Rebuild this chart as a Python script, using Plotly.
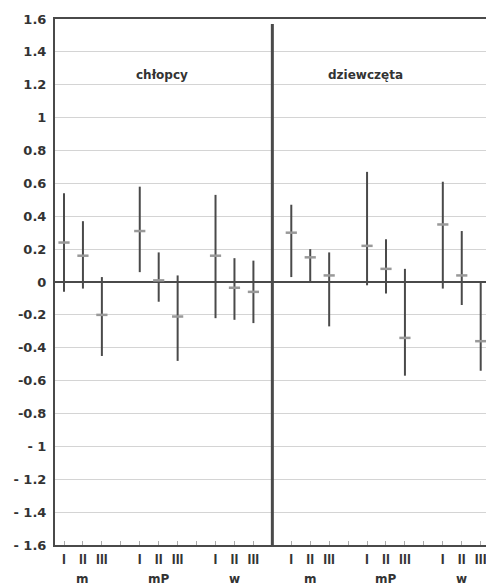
import plotly.graph_objects as go

# ---- data ----
groups = ["m", "mP", "w"]
levels = ["I", "II", "III"]
panels = ["chłopcy", "dziewczęta"]

boys_mean = [0.24, 0.16, -0.20, 0.31, 0.01, -0.21, 0.16, -0.035, -0.06]
boys_upper = [0.54, 0.37, 0.03, 0.58, 0.18, 0.04, 0.53, 0.145, 0.13]
boys_lower = [-0.06, -0.04, -0.45, 0.06, -0.12, -0.48, -0.22, -0.23, -0.25]

girls_mean = [0.30, 0.15, 0.04, 0.22, 0.08, -0.34, 0.35, 0.04, -0.36]
girls_upper = [0.47, 0.20, 0.18, 0.67, 0.26, 0.08, 0.61, 0.31, 0.00]
girls_lower = [0.03, 0.00, -0.27, -0.02, -0.07, -0.57, -0.04, -0.14, -0.54]

y_ticks = [1.6, 1.4, 1.2, 1, 0.8, 0.6, 0.4, 0.2, 0, -0.2, -0.4, -0.6, -0.8, -1, -1.2, -1.4, -1.6]
y_ticktext = ["1.6", "1.4", "1.2", "1", "0.8", "0.6", "0.4", "0.2", "0", "-0.2", "-0.4", "-0.6",
              "-0.8", "- 1", "- 1.2", "- 1.4", "- 1.6"]

# ---- positions (3 items per group, one gap slot between groups) ----
def panel_positions(start):
    pos = []
    for g in range(len(groups)):
        for k in range(len(levels)):
            pos.append(start + g * 4 + k)
    return pos

boys_x = panel_positions(1)
girls_x = panel_positions(13)
divider_x = 12

DARK = "#4a4a4a"
TXT = "#333333"
FONT = "Liberation Sans, Arial, sans-serif"
WIDE = "DejaVu Sans, Verdana, sans-serif"

fig = go.Figure()

for xs, mean, up, lo in [(boys_x, boys_mean, boys_upper, boys_lower),
                         (girls_x, girls_mean, girls_upper, girls_lower)]:
    fig.add_trace(go.Scatter(
        x=xs, y=mean, mode="markers",
        marker=dict(symbol="line-ew", size=8, color="#999999",
                    line=dict(color="#999999", width=2.5)),
        error_y=dict(type="data", symmetric=False,
                     array=[u - m for u, m in zip(up, mean)],
                     arrayminus=[m - l for m, l in zip(mean, lo)],
                     width=0, thickness=2, color=DARK),
        showlegend=False, hoverinfo="skip"))

# divider line between panels
fig.add_shape(type="line", x0=divider_x, x1=divider_x, y0=-1.62, y1=1.57,
              xref="x", yref="y", line=dict(color=DARK, width=3))

# tick labels
all_x = boys_x + girls_x
tick_text = ["<b>%s</b>" % levels[i % 3] for i in range(len(all_x))]

fig.update_xaxes(
    range=[0.525, 23.28], tickvals=all_x, ticktext=tick_text,
    showgrid=False, zeroline=False, showline=True, mirror=True,
    linecolor=DARK, linewidth=2, ticks="", automargin=False,
    ticklabeloverflow="allow",
    tickfont=dict(family=FONT, size=14, color=TXT),
    minor=dict(tick0=1, dtick=1, ticks="inside", ticklen=4, tickcolor="#aaaaaa", tickwidth=1),
)
fig.update_yaxes(
    range=[-1.6, 1.6], tickvals=y_ticks,
    ticktext=["<b>%s</b>" % t for t in y_ticktext],
    showgrid=True, gridcolor="#d4d4d4", gridwidth=1,
    zeroline=True, zerolinecolor=DARK, zerolinewidth=2,
    showline=True, linecolor=DARK, linewidth=2, ticks="", automargin=False,
    ticklabelstandoff=4,
    tickfont=dict(family=WIDE, size=13, color=TXT),
)

# group labels under the roman numerals
for xs in (boys_x, girls_x):
    for g, name in enumerate(groups):
        fig.add_annotation(x=xs[g * 3 + 1], y=-0.081, xref="x", yref="paper",
                           text="<b>%s</b>" % name, showarrow=False,
                           font=dict(family=WIDE, size=12, color=TXT),
                           yanchor="bottom")

# panel titles
fig.add_annotation(x=6.2, y=1.26, xref="x", yref="y", text="<b>chłopcy</b>",
                   showarrow=False, font=dict(family=WIDE, size=12, color=TXT))
fig.add_annotation(x=16.9, y=1.26, xref="x", yref="y", text="<b>dziewczęta</b>",
                   showarrow=False, font=dict(family=WIDE, size=12, color=TXT))

fig.update_layout(
    width=486, height=588,
    margin=dict(l=55, r=0, t=19, b=43),
    paper_bgcolor="white", plot_bgcolor="white",
    showlegend=False,
)

fig.write_html("out.html", config={"displayModeBar": False},
               post_script="document.body.style.margin='0';document.body.style.overflow='hidden';")
